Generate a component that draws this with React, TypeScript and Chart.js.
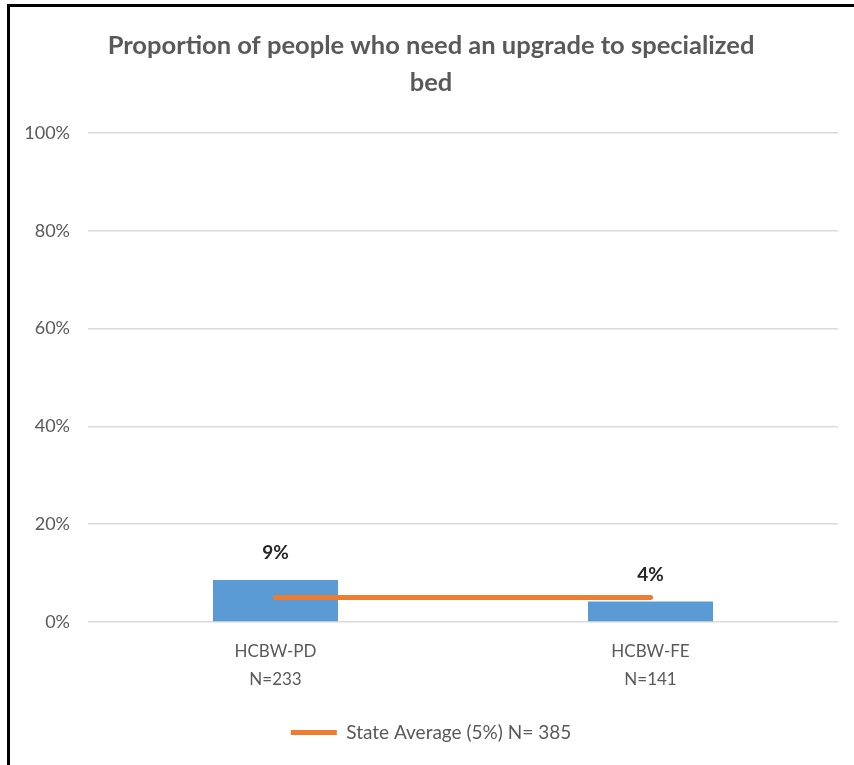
import React, { useEffect, useRef } from "react";
import { Chart, registerables } from "chart.js";

Chart.register(...registerables);

const titleLines = ["Proportion of people who need an upgrade to specialized", "bed"];
const categories = [["HCBW-PD", "N=233"], ["HCBW-FE", "N=141"]];
const barValues = [8.6, 4.2];
const stateAverage = [5, 5];
const stateLabel = "State Average (5%) N= 385";
const yTicks = [0, 20, 40, 60, 80, 100];

const FONT = "Lato, 'Open Sans', sans-serif";
const GRAY = "#595959";

const dataLabels = {
  id: "dataLabels",
  afterDatasetsDraw(chart: any) {
    const meta = chart.getDatasetMeta(1);
    const ctx = chart.ctx;
    ctx.save();
    ctx.font = `bold 19px ${FONT}`;
    ctx.fillStyle = "#262626";
    ctx.textAlign = "center";
    ctx.textBaseline = "middle";
    meta.data.forEach((bar: any, i: number) => {
      ctx.fillText(Math.round(barValues[i]) + "%", bar.x, bar.y - 27);
    });
    ctx.restore();
  },
};

export default function App() {
  const ref = useRef<HTMLCanvasElement>(null);
  useEffect(() => {
    const chart = new Chart(ref.current!, {
      type: "bar",
      data: {
        labels: categories as any,
        datasets: [
          {
            type: "line",
            label: stateLabel,
            data: stateAverage,
            borderColor: "#ED7D31",
            backgroundColor: "#ED7D31",
            borderWidth: 5,
            borderCapStyle: "round",
            pointRadius: 0,
            order: 0,
          } as any,
          {
            type: "bar",
            label: "Proportion",
            data: barValues,
            backgroundColor: "#5B9BD5",
            barPercentage: 1,
            categoryPercentage: 1 / 3,
            order: 1,
          },
        ],
      },
      options: {
        animation: false,
        responsive: false,
        maintainAspectRatio: false,
        layout: { padding: { left: 14, right: 16, top: 0, bottom: 13 } },
        plugins: {
          title: {
            display: true,
            text: titleLines,
            color: GRAY,
            font: { family: FONT, size: 25.5, weight: "bold", lineHeight: "37px" } as any,
            padding: { top: 20.5, bottom: 31.5 },
          },
          legend: {
            position: "bottom",
            labels: {
              filter: (item: any) => item.datasetIndex === 0,
              usePointStyle: true,
              pointStyle: "line",
              pointStyleWidth: 46,
              color: GRAY,
              font: { family: FONT, size: 19 },
              padding: 13,
            },
          },
          tooltip: { enabled: false },
        },
        scales: {
          x: {
            grid: { display: false, drawTicks: false },
            border: { display: false },
            ticks: {
              color: GRAY,
              font: { family: FONT, size: 17, lineHeight: "28px" } as any,
              padding: 16,
            },
          },
          y: {
            min: 0,
            max: 100,
            afterFit: (s: any) => {
              s.width = 64;
            },
            afterBuildTicks: (s: any) => {
              s.ticks = yTicks.map((v) => ({ value: v }));
            },
            grid: { color: "#D9D9D9", lineWidth: 1.5, drawTicks: false },
            border: { display: false },
            ticks: {
              color: GRAY,
              font: { family: FONT, size: 18 },
              padding: 18,
              callback: (v: any) => v + "%",
            },
          },
        },
      },
      plugins: [dataLabels],
    });
    return () => chart.destroy();
  }, []);

  return (
    <div style={{ position: "fixed", left: 0, top: 0, width: 854, height: 765, background: "#fff", overflow: "hidden" }}>
      <canvas ref={ref} width={844} height={758} style={{ position: "absolute", left: 10, top: 7, width: 844, height: 758 }} />
      <div
        style={{
          position: "absolute",
          left: 7,
          top: 4,
          width: 860,
          height: 780,
          borderLeft: "3px solid #000",
          borderTop: "3px solid #000",
          pointerEvents: "none",
        }}
      />
    </div>
  );
}
